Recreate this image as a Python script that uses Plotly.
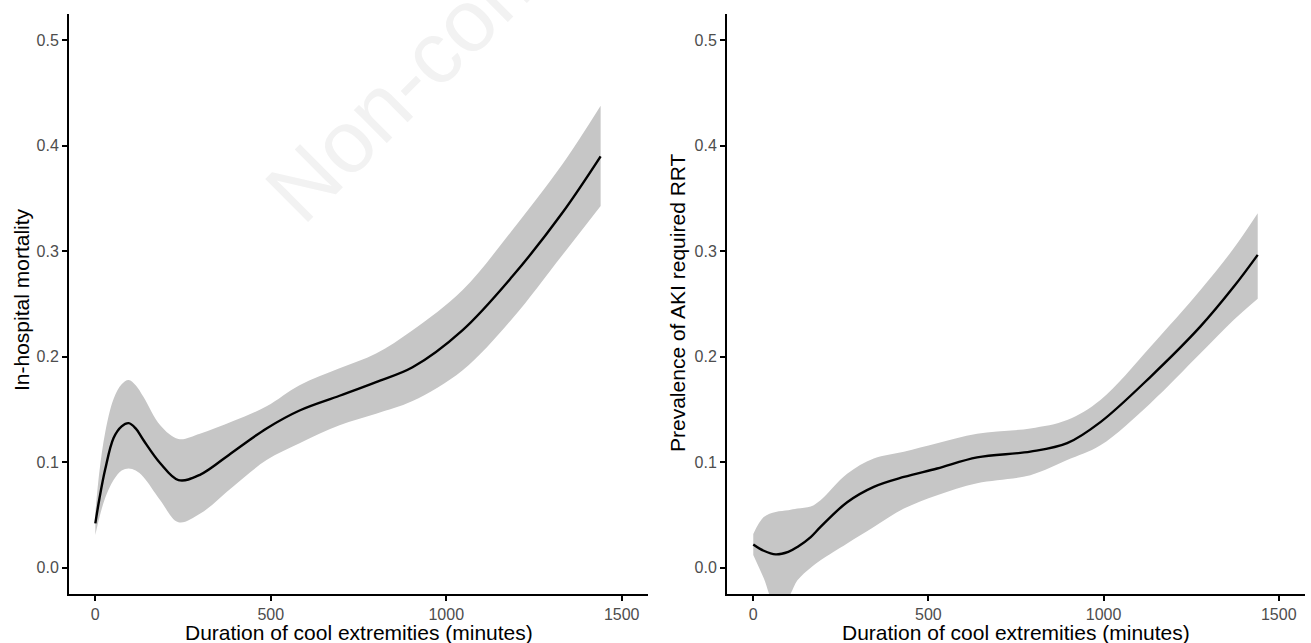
import plotly.graph_objects as go

# ---- Left panel: In-hospital mortality ----
mort_x = [0, 12, 28, 52, 75, 95, 115, 137, 185, 237, 298, 393, 488, 582, 696, 800, 904, 1046, 1188, 1330, 1440]
mort_y = [0.042, 0.066, 0.093, 0.123, 0.134, 0.137, 0.132, 0.121, 0.099, 0.083, 0.088, 0.110, 0.132, 0.149, 0.163, 0.176, 0.190, 0.225, 0.276, 0.336, 0.390]
mort_lo = [0.031, 0.048, 0.066, 0.083, 0.092, 0.094, 0.092, 0.086, 0.064, 0.043, 0.051, 0.077, 0.102, 0.118, 0.135, 0.146, 0.158, 0.187, 0.236, 0.296, 0.343]
mort_hi = [0.052, 0.092, 0.128, 0.160, 0.174, 0.178, 0.173, 0.162, 0.135, 0.122, 0.127, 0.139, 0.153, 0.173, 0.189, 0.203, 0.225, 0.263, 0.320, 0.382, 0.438]

# ---- Right panel: Prevalence of AKI required RRT ----
aki_x = [0, 30, 64, 100, 126, 164, 192, 268, 344, 430, 525, 639, 791, 896, 991, 1134, 1276, 1372, 1440]
aki_y = [0.022, 0.016, 0.0126, 0.015, 0.0196, 0.029, 0.0386, 0.062, 0.0766, 0.086, 0.094, 0.1045, 0.110, 0.118, 0.138, 0.181, 0.2285, 0.2665, 0.2966]
aki_lo = [0.012, -0.010, -0.036, -0.028, -0.012, 0.000, 0.007, 0.023, 0.0386, 0.056, 0.0687, 0.080, 0.0877, 0.102, 0.116, 0.156, 0.203, 0.235, 0.255]
aki_hi = [0.032, 0.048, 0.0528, 0.0544, 0.056, 0.058, 0.064, 0.089, 0.1035, 0.110, 0.118, 0.127, 0.132, 0.140, 0.159, 0.2095, 0.263, 0.303, 0.336]

x_ticks = [0, 500, 1000, 1500]
y_ticks = [0.0, 0.1, 0.2, 0.3, 0.4, 0.5]
y_ticklabels = ["0.0", "0.1", "0.2", "0.3", "0.4", "0.5"]

x_title = "Duration of cool extremities (minutes)"
y_title_left = "In-hospital mortality"
y_title_right = "Prevalence of AKI required RRT"

W, H = 1311, 643
L0, L1 = 69, 648
R0, R1 = 727, 1305
T, B = 14, 49

band_color = "rgb(198,198,198)"
FONT = "Liberation Sans, Arial, sans-serif"

fig = go.Figure()

def add_panel(xs, ys, lo, hi, xa, ya):
    fig.add_trace(go.Scatter(x=xs, y=hi, mode="lines", line=dict(width=0, shape="spline", color=band_color),
                             xaxis=xa, yaxis=ya, showlegend=False, hoverinfo="skip"))
    fig.add_trace(go.Scatter(x=xs, y=lo, mode="lines", line=dict(width=0, shape="spline", color=band_color),
                             fill="tonexty", fillcolor=band_color,
                             xaxis=xa, yaxis=ya, showlegend=False, hoverinfo="skip"))
    fig.add_trace(go.Scatter(x=xs, y=ys, mode="lines", line=dict(width=2.4, shape="spline", color="black"),
                             xaxis=xa, yaxis=ya, showlegend=False))

add_panel(mort_x, mort_y, mort_lo, mort_hi, "x", "y")
add_panel(aki_x, aki_y, aki_lo, aki_hi, "x2", "y2")

xcommon = dict(range=[-75, 1575], tickvals=x_ticks, ticktext=[str(v) for v in x_ticks],
               showgrid=False, zeroline=False, showline=True, linecolor="black", linewidth=2,
               ticks="outside", ticklen=5, tickwidth=1.5, tickcolor="black",
               tickfont=dict(family=FONT, size=16, color="#4D4D4D"), automargin=False)
ycommon = dict(range=[-0.025, 0.525], tickvals=y_ticks, ticktext=y_ticklabels,
               showgrid=False, zeroline=False, showline=True, linecolor="black", linewidth=2,
               ticks="outside", ticklen=5, tickwidth=1.5, tickcolor="black",
               tickfont=dict(family=FONT, size=16, color="#4D4D4D"), automargin=False,
               domain=[0, 1])

fig.update_layout(
    width=W, height=H,
    margin=dict(l=0, r=0, t=T, b=B),
    paper_bgcolor="white", plot_bgcolor="white",
    xaxis=dict(domain=[L0 / W, L1 / W], anchor="y", **xcommon),
    yaxis=dict(anchor="x", **ycommon),
    xaxis2=dict(domain=[R0 / W, R1 / W], anchor="y2", **xcommon),
    yaxis2=dict(anchor="x2", **ycommon),
)

ph = H - T - B

def py(p):
    return (H - B - p) / ph

anns = [
    dict(text=x_title, x=(L0 + L1) / 2 / W, y=py(632), xref="paper", yref="paper",
         xanchor="center", yanchor="middle", showarrow=False,
         font=dict(family=FONT, size=21, color="black")),
    dict(text=x_title, x=(R0 + R1) / 2 / W, y=py(632), xref="paper", yref="paper",
         xanchor="center", yanchor="middle", showarrow=False,
         font=dict(family=FONT, size=21, color="black")),
    dict(text=y_title_left, x=21 / W, y=py(300), xref="paper", yref="paper",
         xanchor="center", yanchor="middle", showarrow=False, textangle=-90,
         font=dict(family=FONT, size=21, color="black")),
    dict(text=y_title_right, x=677 / W, y=py(303), xref="paper", yref="paper",
         xanchor="center", yanchor="middle", showarrow=False, textangle=-90,
         font=dict(family=FONT, size=21, color="black")),
    dict(text="Non-commercial", x=508 / W, y=py(-22), xref="paper", yref="paper",
         xanchor="center", yanchor="middle", showarrow=False, textangle=-45,
         font=dict(family=FONT, size=88, color="#F2F2F2")),
]
fig.update_layout(annotations=anns)

fig.write_html("out.html", config={"displayModeBar": False},
               post_script="document.body.style.margin='0px';document.body.style.padding='0px';")
